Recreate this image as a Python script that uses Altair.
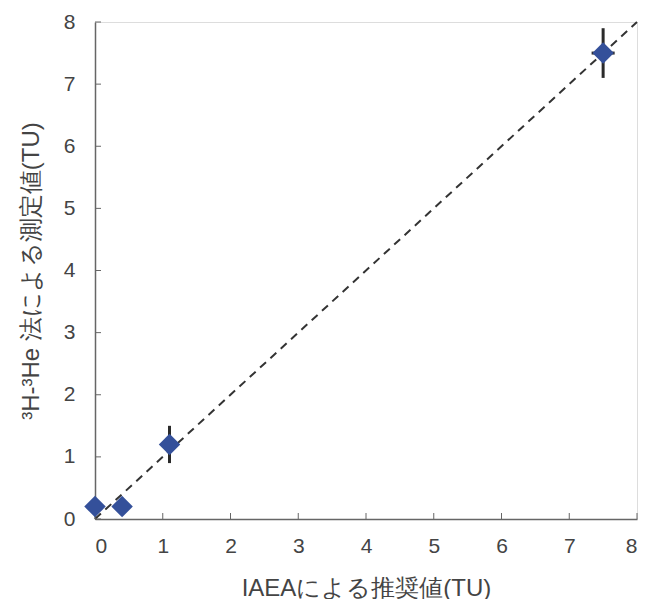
import altair as alt
import pandas as pd

# data
ref_vals = [0.0, 0.4, 1.1, 7.5]
meas_vals = [0.2, 0.2, 1.2, 7.5]
y_err = [0.0, 0.0, 0.3, 0.4]
x_err = [0.0, 0.0, 0.0, 0.17]
tick_vals = [0, 1, 2, 3, 4, 5, 6, 7, 8]

pts = pd.DataFrame({"x": ref_vals, "y": meas_vals, "ye": y_err, "xe": x_err})
pts["ylo"] = pts["y"] - pts["ye"]
pts["yhi"] = pts["y"] + pts["ye"]
pts["xlo"] = pts["x"] - pts["xe"]
pts["xhi"] = pts["x"] + pts["xe"]
ebar_y = pts[pts["ye"] > 0]
ebar_x = pts[pts["xe"] > 0]
line_df = pd.DataFrame({"x": [0, 8], "y": [0, 8]})
ticks_df = pd.DataFrame({"t": tick_vals})

W, H = 542, 497
FONT = "Liberation Sans"

xs = alt.Scale(domain=[0, 8], nice=False)
ys = alt.Scale(domain=[0, 8], nice=False)

xaxis = alt.Axis(values=tick_vals, format="d", ticks=False, tickSize=0, grid=False, labelFontSize=21,
                 labelColor="#444", labelPadding=16, labelFont=FONT, domainColor="#666",
                 domainWidth=1.5, title="IAEAによる推奨値(TU)", titleFontSize=24,
                 titleFontWeight="normal", titleColor="#444", titlePadding=20, titleFont=FONT)
yaxis = alt.Axis(values=tick_vals, format="d", ticks=False, tickSize=0, grid=False, labelFontSize=21,
                 labelColor="#444", labelPadding=20, labelFont=FONT, domainColor="#666",
                 domainWidth=1.5, title="³H-³He 法による測定値(TU)", titleFontSize=24,
                 titleFontWeight="normal", titleColor="#444", titlePadding=20, titleFont=FONT)

base_x = alt.X("x:Q", scale=xs, axis=xaxis)
base_y = alt.Y("y:Q", scale=ys, axis=yaxis)

line = alt.Chart(line_df).mark_line(color="#333", strokeDash=[8, 6], strokeWidth=2).encode(
    x=base_x, y=base_y)

eby = alt.Chart(ebar_y).mark_rule(color="#2a2a2a", strokeWidth=3).encode(
    x=alt.X("x:Q", scale=xs), y=alt.Y("ylo:Q", scale=ys), y2="yhi:Q")
ebx = alt.Chart(ebar_x).mark_rule(color="#2a2a2a", strokeWidth=3).encode(
    y=alt.Y("y:Q", scale=ys), x=alt.X("xlo:Q", scale=xs), x2="xhi:Q")

points = alt.Chart(pts).mark_point(shape="diamond", filled=True, size=460, opacity=1,
                                   color="#34509a").encode(
    x=alt.X("x:Q", scale=xs), y=alt.Y("y:Q", scale=ys))

xticks = alt.Chart(ticks_df).mark_rule(color="#666", strokeWidth=1).encode(
    x=alt.X("t:Q", scale=xs), y=alt.value(H), y2=alt.value(H - 6))
yticks = alt.Chart(ticks_df).mark_rule(color="#666", strokeWidth=1).encode(
    y=alt.Y("t:Q", scale=ys), x=alt.value(0), x2=alt.value(6))

chart = alt.layer(line, xticks, yticks, eby, ebx, points).properties(
    width=W, height=H,
    autosize=alt.AutoSizeParams(type="none"),
    padding={"left": 87, "top": 14, "right": 8, "bottom": 80},
).configure_view(stroke="#aaa", strokeWidth=1.5).configure(background="white")

chart.save("out.html", embed_options={"renderer": "svg", "actions": False})
